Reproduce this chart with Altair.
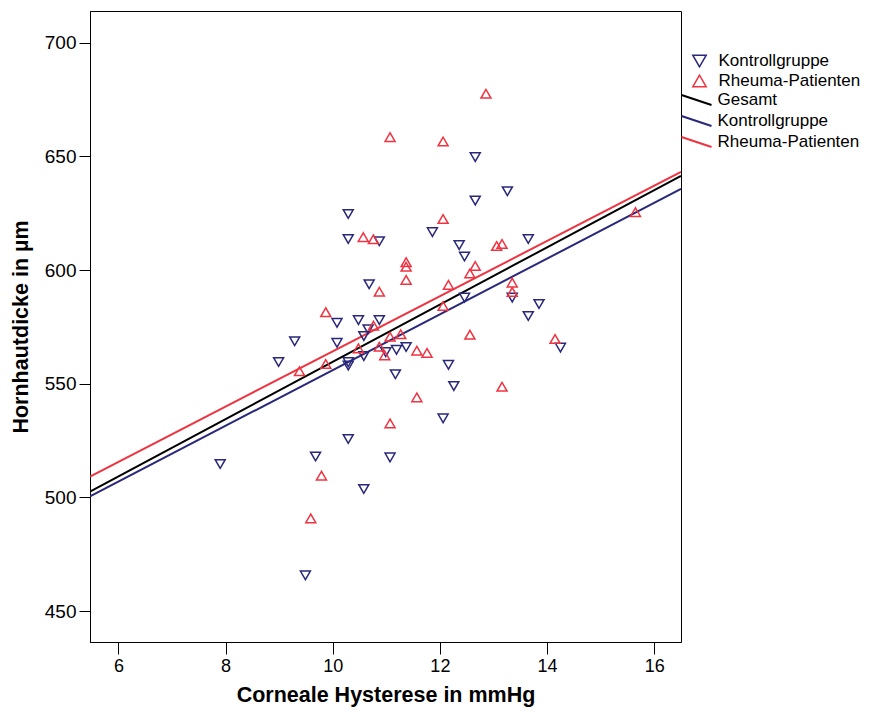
import altair as alt
import pandas as pd

# ---- data ----
kontroll_ch = [7.90, 8.99, 9.29, 9.49, 9.68, 10.08, 10.08, 10.29, 10.29, 10.29, 10.29, 10.29,
               10.48, 10.58, 10.58, 10.58, 10.66, 10.68, 10.87, 10.87, 10.99, 11.07, 11.19, 11.17,
               11.37, 11.86, 12.06, 12.16, 12.26, 12.36, 12.46, 12.46, 12.66, 12.66, 13.26, 13.35,
               13.65, 13.65, 13.85, 14.25]
kontroll_cct = [514.7, 559.6, 568.7, 465.7, 518.0, 576.8, 568.0, 624.7, 613.7, 559.5, 558.0, 525.7,
                578.0, 562.2, 571.0, 503.7, 574.0, 593.8, 612.7, 578.0, 563.9, 517.6, 564.9, 554.2,
                566.2, 616.7, 534.8, 558.3, 549.0, 611.0, 606.0, 587.9, 649.7, 630.6, 634.7, 587.9,
                613.7, 579.8, 585.1, 565.9]

rheuma_ch = [9.38, 9.59, 9.79, 9.87, 9.87, 10.48, 10.57, 10.76, 10.76, 10.87, 10.87, 10.97,
             11.07, 11.07, 11.07, 11.27, 11.37, 11.37, 11.37, 11.57, 11.57, 11.76, 12.06, 12.06,
             12.06, 12.16, 12.56, 12.56, 12.66, 12.86, 13.06, 13.16, 13.16, 13.35, 13.35, 14.15,
             15.65]
rheuma_cct = [555.5, 490.8, 509.6, 581.5, 558.7, 565.6, 614.5, 613.6, 575.6, 590.5, 566.3, 562.5,
              570.7, 532.6, 658.5, 571.8, 603.5, 601.5, 595.7, 564.6, 544.0, 563.6, 622.5, 584.2,
              656.6, 593.5, 598.5, 571.6, 601.8, 677.6, 610.6, 611.5, 548.7, 594.5, 590.4, 569.7,
              625.5]

groups = ["Kontrollgruppe", "Rheuma-Patienten"]
group_colors = ["#29287a", "#ef3340"]
group_shapes = ["triangle-down", "triangle-up"]

# fit lines (end values read at the plot edges)
fit_names = ["Gesamt", "Kontrollgruppe", "Rheuma-Patienten"]
fit_colors = ["#000000", "#29287a", "#ef3340"]
fit_x = [5.47, 16.5]
fit_gesamt = [502.6, 641.5]
fit_kontroll = [500.5, 635.7]
fit_rheuma = [509.2, 643.2]

x_ticks = [6, 8, 10, 12, 14, 16]
y_ticks = [450, 500, 550, 600, 650, 700]
x_domain = [5.47, 16.5]
y_domain = [436.4, 714.0]

# ---- tables ----
points_df = pd.concat([
    pd.DataFrame({"ch": kontroll_ch, "cct": kontroll_cct, "Gruppe": groups[0]}),
    pd.DataFrame({"ch": rheuma_ch, "cct": rheuma_cct, "Gruppe": groups[1]}),
], ignore_index=True)

lines_df = pd.concat([
    pd.DataFrame({"ch": fit_x, "cct": vals, "Linie": name})
    for name, vals in zip(fit_names, [fit_gesamt, fit_kontroll, fit_rheuma])
], ignore_index=True)

FONT = "Liberation Sans, Arial, sans-serif"

x_scale = alt.Scale(domain=x_domain, nice=False, zero=False)
y_scale = alt.Scale(domain=y_domain, nice=False, zero=False)

x_axis = alt.Axis(values=x_ticks, title="Corneale Hysterese in mmHg", grid=False,
                  tickSize=12, labelPadding=3, labelFontSize=18, titleFontSize=21.5,
                  titleFontWeight="bold", titlePadding=9, format="d")
y_axis = alt.Axis(values=y_ticks, title="Hornhautdicke in µm", grid=False,
                  tickSize=11, labelPadding=3, labelFontSize=19, titleFontSize=21.5,
                  titleFontWeight="bold", titlePadding=12, format="d")

lines = alt.Chart(lines_df).mark_line(strokeWidth=2, clip=True).encode(
    x=alt.X("ch:Q", scale=x_scale, axis=x_axis),
    y=alt.Y("cct:Q", scale=y_scale, axis=y_axis),
    stroke=alt.Stroke("Linie:N", sort=fit_names,
                      scale=alt.Scale(domain=fit_names, range=fit_colors),
                      legend=alt.Legend(title=None, orient="none", legendX=598, legendY=80.5,
                                        symbolType="M-3,-1L3,1", symbolSize=100,
                                        symbolStrokeWidth=2, labelOffset=12.5,
                                        labelFontSize=17, labelFont=FONT, rowPadding=2,
                                        padding=0, labelLimit=300)),
)

pt_legend = alt.Legend(title=None, orient="none", legendX=601, legendY=41.5,
                       symbolSize=180, symbolStrokeWidth=1.5, labelOffset=10.5,
                       labelFontSize=17, labelFont=FONT, rowPadding=1, padding=0,
                       labelLimit=300)

points = alt.Chart(points_df).mark_point(filled=False, size=100, strokeWidth=1.5, opacity=1).encode(
    x=alt.X("ch:Q", scale=x_scale, axis=x_axis),
    y=alt.Y("cct:Q", scale=y_scale, axis=y_axis),
    color=alt.Color("Gruppe:N", scale=alt.Scale(domain=groups, range=group_colors), legend=pt_legend),
    shape=alt.Shape("Gruppe:N", scale=alt.Scale(domain=groups, range=group_shapes), legend=pt_legend),
)

chart = alt.layer(lines, points).properties(
    width=591, height=631,
    padding={"left": 82, "top": 3, "right": 182, "bottom": 65},
    autosize=alt.AutoSizeParams(type="none"),
).configure(
    font=FONT,
).configure_view(
    stroke="#000000", strokeWidth=1,
).configure_axis(
    domainColor="#000000", tickColor="#000000", labelColor="#000000", titleColor="#000000",
    labelFont=FONT, titleFont=FONT, domainWidth=1, tickWidth=1,
)

chart.save("out.html", embed_options={"renderer": "svg", "actions": False})
